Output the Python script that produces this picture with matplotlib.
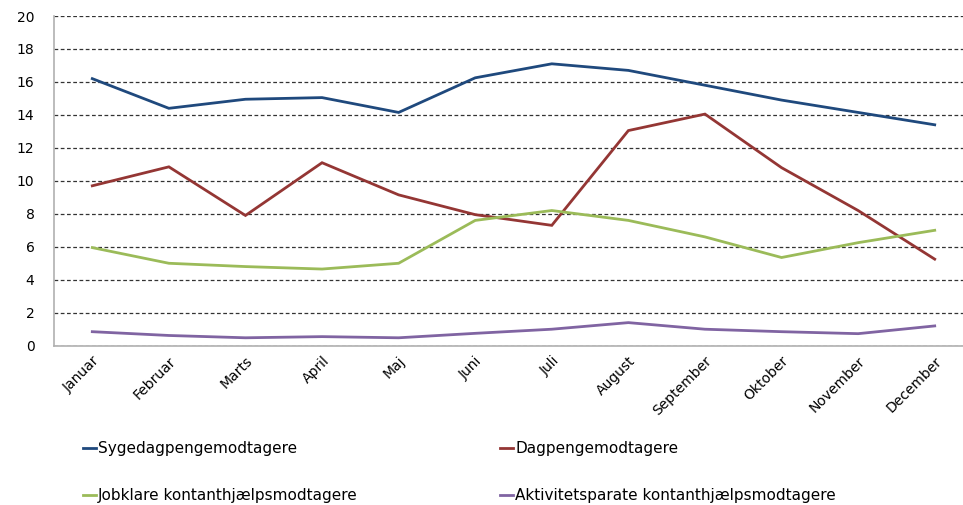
import matplotlib
matplotlib.use("Agg")
import matplotlib.pyplot as plt

plt.rcParams['font.family'] = ['DejaVu Sans']

maaneder = ["Januar", "Februar", "Marts", "April", "Maj", "Juni", "Juli",
            "August", "September", "Oktober", "November", "December"]
sygedagpenge = [16.2, 14.4, 14.95, 15.05, 14.15, 16.25, 17.1, 16.7, 15.8, 14.9, 14.15, 13.4]
dagpenge = [9.7, 10.85, 7.9, 11.1, 9.15, 7.95, 7.3, 13.05, 14.05, 10.8, 8.2, 5.25]
jobklare = [5.95, 5.0, 4.8, 4.65, 5.0, 7.6, 8.2, 7.6, 6.6, 5.35, 6.25, 7.0]
aktivitetsparate = [0.85, 0.62, 0.48, 0.55, 0.48, 0.75, 1.0, 1.4, 1.0, 0.85, 0.73, 1.2]

serier = [
    ("Sygedagpengemodtagere", sygedagpenge, "#1F497D"),
    ("Dagpengemodtagere", dagpenge, "#943634"),
    ("Jobklare kontanthjælpsmodtagere", jobklare, "#9BBB59"),
    ("Aktivitetsparate kontanthjælpsmodtagere", aktivitetsparate, "#8064A2"),
]

fig = plt.figure(figsize=(9.63, 5.05), dpi=100)
ax = fig.add_axes([54 / 963, 159.3 / 505, 919 / 963, 329.7 / 505])

x = range(len(maaneder))
linjer = {}
for navn, vals, farve in serier:
    linjer[navn], = ax.plot(x, vals, color=farve, lw=2.0, label=navn,
                            solid_joinstyle="miter")

ax.set_xlim(-0.5, 11.5)
ax.set_ylim(0, 20)
ax.set_yticks(range(0, 21, 2))
ax.yaxis.grid(True, linestyle=(0, (3, 2)), color="#333", lw=0.9)
ax.set_axisbelow(True)
ax.set_xticks(list(x))
ax.set_xticklabels(maaneder, rotation=45, ha="right", rotation_mode="anchor",
                   fontsize=10)
ax.tick_params(axis="both", length=0, labelsize=10)
ax.tick_params(axis="y", pad=14)
ax.tick_params(axis="x", pad=6)
for side in ("top", "right"):
    ax.spines[side].set_visible(False)
for side in ("left", "bottom"):
    ax.spines[side].set_color("#b0b0b0")
    ax.spines[side].set_linewidth(1.2)

# ncol=2 fylder kolonnevis, saa raekkefoelgen byttes om
orden = [serier[0][0], serier[2][0], serier[1][0], serier[3][0]]
fig.legend([linjer[n] for n in orden], orden,
           loc="upper left", bbox_to_anchor=(83 / 963, 1 - 441 / 505),
           ncol=2, frameon=False, fontsize=11, handlelength=0.85,
           handletextpad=0.15, columnspacing=9.3, labelspacing=2.12,
           borderaxespad=0, borderpad=0)

fig.savefig("out.png", dpi=100, facecolor="white")
